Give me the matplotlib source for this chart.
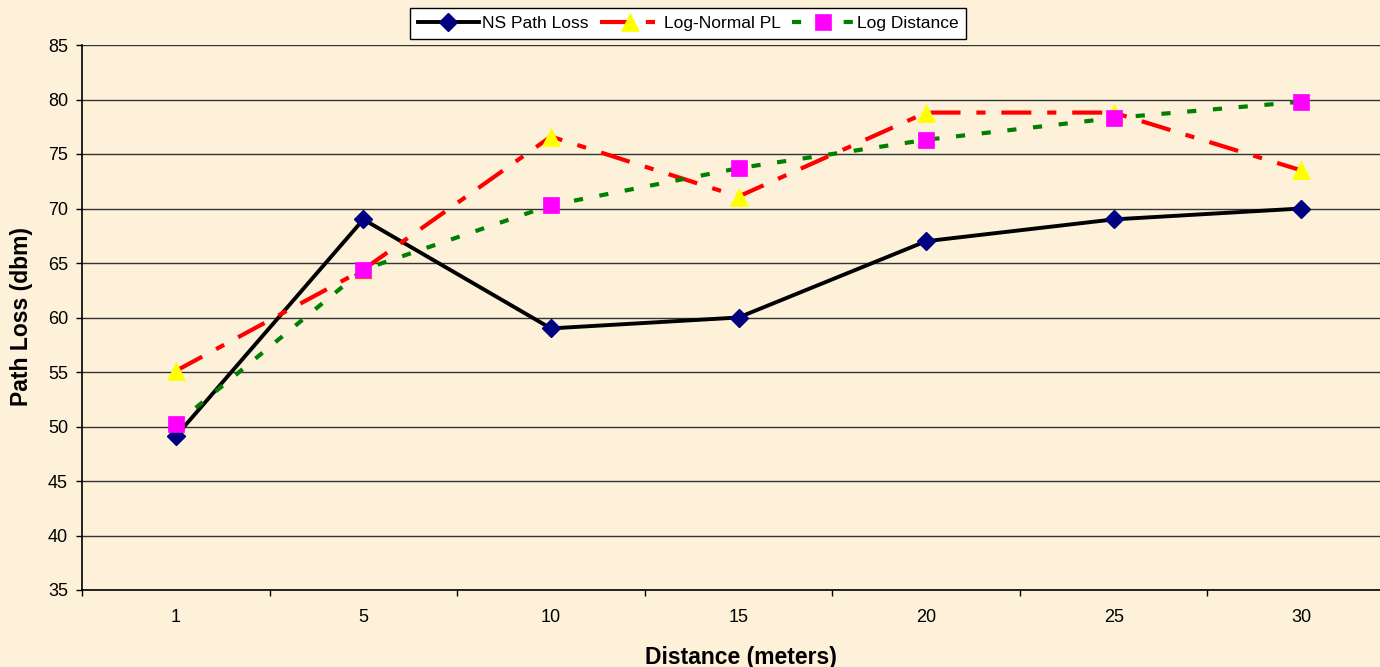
import matplotlib
matplotlib.use("Agg")
import matplotlib.pyplot as plt

plt.rcParams['font.family'] = ['Liberation Sans', 'DejaVu Sans']

categories = ["1", "5", "10", "15", "20", "25", "30"]
ns_path_loss = [49.1, 69.0, 59.0, 60.0, 67.0, 69.0, 70.0]
log_normal_pl = [55.1, 64.4, 76.6, 71.1, 78.8, 78.8, 73.5]
log_distance = [50.2, 64.4, 70.3, 73.7, 76.3, 78.3, 79.8]
y_ticks = [35, 40, 45, 50, 55, 60, 65, 70, 75, 80, 85]

bg = '#FDF1DA'
W, H = 1380, 667
fig = plt.figure(figsize=(W / 100, H / 100), dpi=100, facecolor=bg)
ax = fig.add_axes([82 / W, 77 / H, 1313 / W, 545 / H])
ax.set_facecolor(bg)

x = list(range(len(categories)))

ax.plot(x, ns_path_loss, color='black', lw=2.8, marker='D', ms=9,
        mfc='#000080', mec='#000080', mew=1, zorder=3, label='NS Path Loss')
ax.plot(x, log_normal_pl, color='#FF0000', lw=3, marker='^', ms=13,
        mfc='#FFFF00', mec='#FFFF00', mew=0.5, zorder=4,
        dashes=(7.2, 3.8, 2.2, 3.8), label='Log-Normal PL')
ax.plot(x, log_distance, color='#008000', lw=3, marker='s', ms=11.5,
        mfc='#FF00FF', mec='#FF00FF', mew=0.5, zorder=5,
        dashes=(2.2, 4.0), label='Log Distance')

ax.set_xlim(-0.5, len(categories) - 0.5)
ax.set_ylim(35, 85)
ax.set_yticks(y_ticks)
ax.set_yticklabels([str(v) for v in y_ticks], fontsize=13)
ax.set_xticks(x)
ax.set_xticklabels(categories, fontsize=13)
ax.tick_params(axis='x', which='major', length=0, pad=14)
ax.set_xticks([i - 0.5 for i in range(len(categories) + 1)], minor=True)
ax.tick_params(axis='x', which='minor', length=4, width=1, direction='out', color='black')
ax.tick_params(axis='y', length=4, width=1, direction='out', color='black', pad=6)

ax.grid(axis='y', color='#333333', lw=1, zorder=1)
ax.set_axisbelow(True)
for s in ['top', 'right']:
    ax.spines[s].set_visible(False)
for s in ['left', 'bottom']:
    ax.spines[s].set_color('black')
    ax.spines[s].set_linewidth(1.2)
    ax.spines[s].set_zorder(2)

fig.text(741 / W, 1 - 664 / H, 'Distance (meters)', fontsize=16.5, fontweight='bold',
         ha='center', va='baseline')
fig.text(22 / W, 1 - 317 / H, 'Path Loss (dbm)', fontsize=16.5, fontweight='bold',
         ha='center', va='center', rotation=90)

leg = fig.legend(loc='upper center', bbox_to_anchor=(688 / W, 1 - 8 / H), ncol=3,
                 fontsize=12.5, frameon=True, fancybox=False, handlelength=3.5,
                 handletextpad=0.2, columnspacing=0.65, borderpad=0.45,
                 borderaxespad=0)
leg.get_frame().set_edgecolor('black')
leg.get_frame().set_facecolor('white')
leg.get_frame().set_linewidth(1)
leg.get_frame().set_alpha(1)

fig.savefig('out.png', dpi=100, facecolor=bg)
